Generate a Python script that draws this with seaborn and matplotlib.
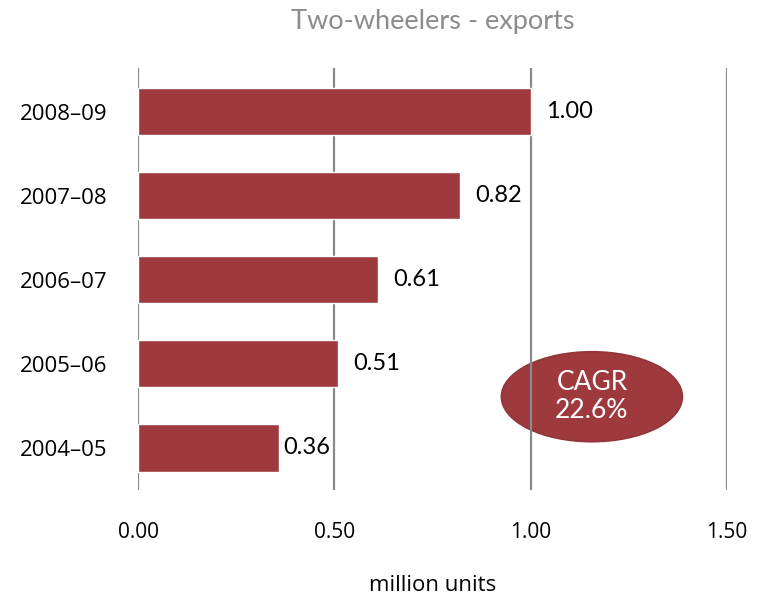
import matplotlib
matplotlib.use("Agg")
import matplotlib.pyplot as plt
from matplotlib.patches import Ellipse
import seaborn as sns
import pandas as pd

years = ["2008\u201309", "2007\u201308", "2006\u201307", "2005\u201306", "2004\u201305"]
exports = [1.00, 0.82, 0.61, 0.51, 0.36]
x_ticks = [0.0, 0.5, 1.0, 1.5]
tick_labels = ["0.00", "0.50", "1.00", "1.50"]
cagr_text = "CAGR\n22.6%"

bar_color = "#9E3A3D"

sns.set_theme(style="white")
plt.rcParams["font.family"] = ["Lato", "DejaVu Sans"]
plt.rcParams["text.color"] = "black"
plt.rcParams["xtick.color"] = "black"
plt.rcParams["ytick.color"] = "black"
plt.rcParams["axes.labelcolor"] = "black"

df = pd.DataFrame({"year": years, "exports": exports})

fig = plt.figure(figsize=(7.65, 5.97), dpi=100)
ax = fig.add_axes([0.1804, 0.1792, 0.7699, 0.7068])

sns.barplot(data=df, x="exports", y="year", order=years, color=bar_color,
            saturation=1, width=0.56, ax=ax, zorder=2)

ax.set_xlim(0, 1.5)
ax.set_ylim(4.5, -0.52)
ax.set_xticks(x_ticks)
ax.set_xticklabels(tick_labels, fontsize=15, family="Open Sans")
ax.set_yticks(range(len(years)))
ax.set_yticklabels(years, fontsize=16, family="Open Sans")
ax.tick_params(axis="x", length=0, pad=23)
ax.tick_params(axis="y", length=0, pad=22)

ax.set_axisbelow(True)
ax.xaxis.grid(True, color="#8a8a8a", linewidth=1.6)
ax.yaxis.grid(False)
for s in ax.spines.values():
    s.set_visible(False)

ax.set_xlabel("million units", fontsize=16, family="Open Sans", labelpad=23)
ax.set_ylabel("")
ax.set_title("Two-wheelers - exports", fontsize=19.5, color="#8c8c8c", pad=28)

for i, v in enumerate(exports):
    off = 3 if v < 0.4 else 11
    ax.annotate(f"{v:.2f}", xy=(v, i), xytext=(off, 0), textcoords="offset points",
                va="center", ha="left", fontsize=17, color="black")

ell = Ellipse((1.156, 3.39), width=0.461, height=1.07, facecolor=bar_color,
              edgecolor="#923538", linewidth=1.2, zorder=0.3)
ax.add_patch(ell)
ax.text(1.156, 3.39, cagr_text, ha="center", va="center", color="white",
        fontsize=19, linespacing=1.15, zorder=3)

fig.savefig("out.png", dpi=100)
